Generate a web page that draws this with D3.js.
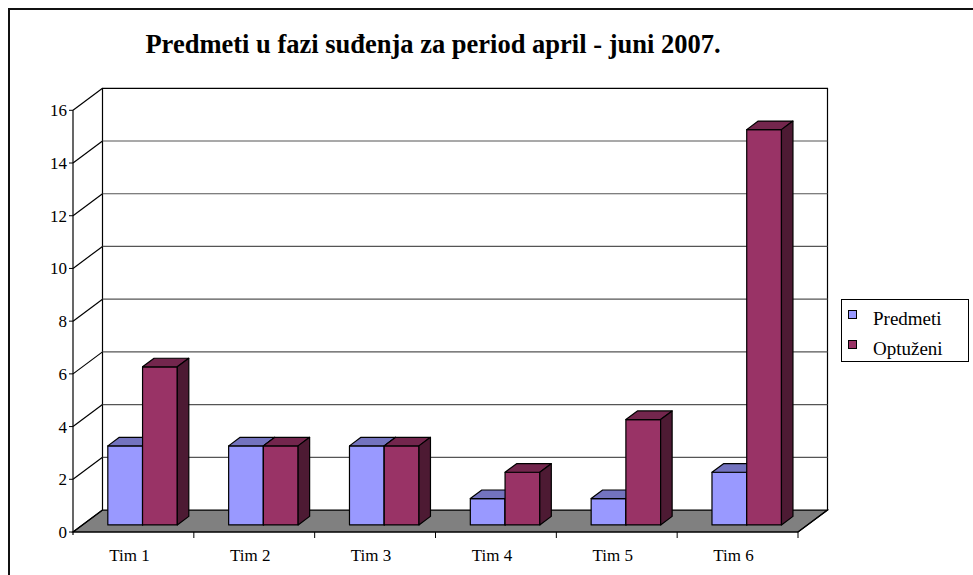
<!DOCTYPE html>
<meta charset="utf-8">
<style>
body{ margin:0; background:#fff; }
svg{ display:block; }
svg text{ font-family:"Liberation Serif", "Times New Roman", serif; fill:#000; }
</style>
<body>
<script src="https://d3js.org/d3.v7.min.js"></script>
<script>

var width = 973, height = 575;

// data
var categories = ["Tim 1","Tim 2","Tim 3","Tim 4","Tim 5","Tim 6"];
var seriesNames = ["Predmeti","Optuženi"];
var predmeti = [3,3,3,1,1,2];
var optuzeni = [6,3,3,2,4,15];
var yTicks = [0,2,4,6,8,10,12,14,16];

var frontColors = ["#9999ff","#993366"],
    topColors   = ["#7373bf","#73264d"],
    sideColors  = ["#5c5c99","#4d1a33"];

// depth of the box (wall offset) and bar placement inside it
var depthX = 29.5, depthY = -22;
var barZ0 = 0.32, barZ1 = 0.71;
var serif = "'Liberation Serif', 'Times New Roman', serif";

var svg = d3.select("body").append("svg")
    .attr("width", width)
    .attr("height", height);

// outer frame (clipped by window on right/bottom)
svg.append("rect")
    .attr("x", 9).attr("y", 9)
    .attr("width", 980).attr("height", 600)
    .attr("fill", "none").attr("stroke", "#111").attr("stroke-width", 2);

svg.append("text")
    .attr("x", 433).attr("y", 53)
    .attr("text-anchor", "middle")
    .attr("font-family", serif)
    .attr("font-size", 26.5).attr("font-weight", "bold")
    .text("Predmeti u fazi suđenja za period april - juni 2007.");

var x = d3.scaleBand().domain(categories).range([73, 798]);
var y = d3.scaleLinear().domain([0,16]).range([532, 110.3]);
var inner = d3.scaleBand().domain(seriesNames)
    .range([x.bandwidth()*0.21, x.bandwidth()*0.785]);

function P(px, v, z){ return [px + depthX*z, y(v) + depthY*z]; }
function poly(pts){ return pts.map(function(p){ return p.join(","); }).join(" "); }

var x0 = x.range()[0], x1 = x.range()[1];

// floor
svg.append("polygon")
    .attr("points", poly([P(x0,0,0),P(x0,0,1),P(x1,0,1),P(x1,0,0)]))
    .attr("fill", "#808080").attr("stroke", "#000").attr("stroke-width", 1.2);

// back wall
svg.append("polygon")
    .attr("points", poly([P(x0,0,1),P(x0,16,1),P(x1,16,1),P(x1,0,1)]))
    .attr("fill", "#fff").attr("stroke", "#000").attr("stroke-width", 1.2);

// grid lines on back and side walls
var grid = svg.append("g");
yTicks.filter(function(d){ return d > 0 && d < 16; }).forEach(function(d){
  grid.append("line")
      .attr("x1", P(x0,d,1)[0]).attr("y1", P(x0,d,1)[1])
      .attr("x2", P(x1,d,1)[0]).attr("y2", P(x1,d,1)[1])
      .attr("stroke", "#555").attr("stroke-width", 1.2);
});
yTicks.forEach(function(d){
  grid.append("line")
      .attr("x1", P(x0,d,0)[0]).attr("y1", P(x0,d,0)[1])
      .attr("x2", P(x0,d,1)[0]).attr("y2", P(x0,d,1)[1])
      .attr("stroke", "#000").attr("stroke-width", 1.2);
});

// y axis
svg.append("line")
    .attr("x1", x0).attr("y1", y(16)).attr("x2", x0).attr("y2", y(0) + 3)
    .attr("stroke", "#000").attr("stroke-width", 1.2);
var yAx = svg.append("g");
yTicks.forEach(function(d){
  yAx.append("line")
      .attr("x1", x0 - 4).attr("x2", x0).attr("y1", y(d)).attr("y2", y(d))
      .attr("stroke", "#000");
  yAx.append("text")
      .attr("x", x0 - 6).attr("y", y(d) + 6)
      .attr("text-anchor", "end")
      .attr("font-family", serif).attr("font-size", 17)
      .attr("fill", "#222")
      .text(d);
});

// x axis
svg.append("line")
    .attr("x1", x0).attr("y1", y(0)).attr("x2", x1).attr("y2", y(0))
    .attr("stroke", "#000").attr("stroke-width", 1.2);
svg.append("line")
    .attr("x1", x1).attr("y1", y(0)).attr("x2", P(x1,0,1)[0]).attr("y2", P(x1,0,1)[1])
    .attr("stroke", "#000").attr("stroke-width", 1.2);
categories.forEach(function(c, i){
  var bx = x(c) + x.bandwidth();
  svg.append("line")
      .attr("x1", bx).attr("x2", bx).attr("y1", y(0)).attr("y2", y(0) + 6)
      .attr("stroke", "#000");
  svg.append("text")
      .attr("x", x(c) + x.bandwidth()/2 - 4).attr("y", 561)
      .attr("text-anchor", "middle")
      .attr("font-family", serif).attr("font-size", 17)
      .attr("fill", "#222")
      .text(c);
});

// 3D bars
var values = [predmeti, optuzeni];
var bars = svg.append("g").attr("stroke", "#000").attr("stroke-width", 1.2)
    .attr("stroke-linejoin", "round");
categories.forEach(function(c, i){
  seriesNames.forEach(function(s, j){
    var v = values[j][i];
    var l = x(c) + inner(s), r = l + inner.bandwidth();
    var fl = P(l,0,barZ0), fr = P(r,0,barZ0),
        tl = P(l,v,barZ0), tr = P(r,v,barZ0),
        btl = P(l,v,barZ1), btr = P(r,v,barZ1), bbr = P(r,0,barZ1);
    bars.append("polygon").attr("points", poly([fl,tl,tr,fr])).attr("fill", frontColors[j]);
    bars.append("polygon").attr("points", poly([tl,btl,btr,tr])).attr("fill", topColors[j]);
    bars.append("polygon").attr("points", poly([fr,tr,btr,bbr])).attr("fill", sideColors[j]);
  });
});

// legend
var lg = svg.append("g");
lg.append("rect")
    .attr("x", 841.5).attr("y", 299.5).attr("width", 127).attr("height", 62)
    .attr("fill", "#fff").attr("stroke", "#000");
seriesNames.forEach(function(s, j){
  var cy = 314 + j*30;
  lg.append("rect")
      .attr("x", 848.5).attr("y", cy - 3.5).attr("width", 8).attr("height", 8)
      .attr("fill", frontColors[j]).attr("stroke", "#000");
  lg.append("text")
      .attr("x", 873).attr("y", cy + 11)
      .attr("font-family", serif).attr("font-size", 19)
      .attr("fill", "#222")
      .text(s);
});

</script>
</body>
